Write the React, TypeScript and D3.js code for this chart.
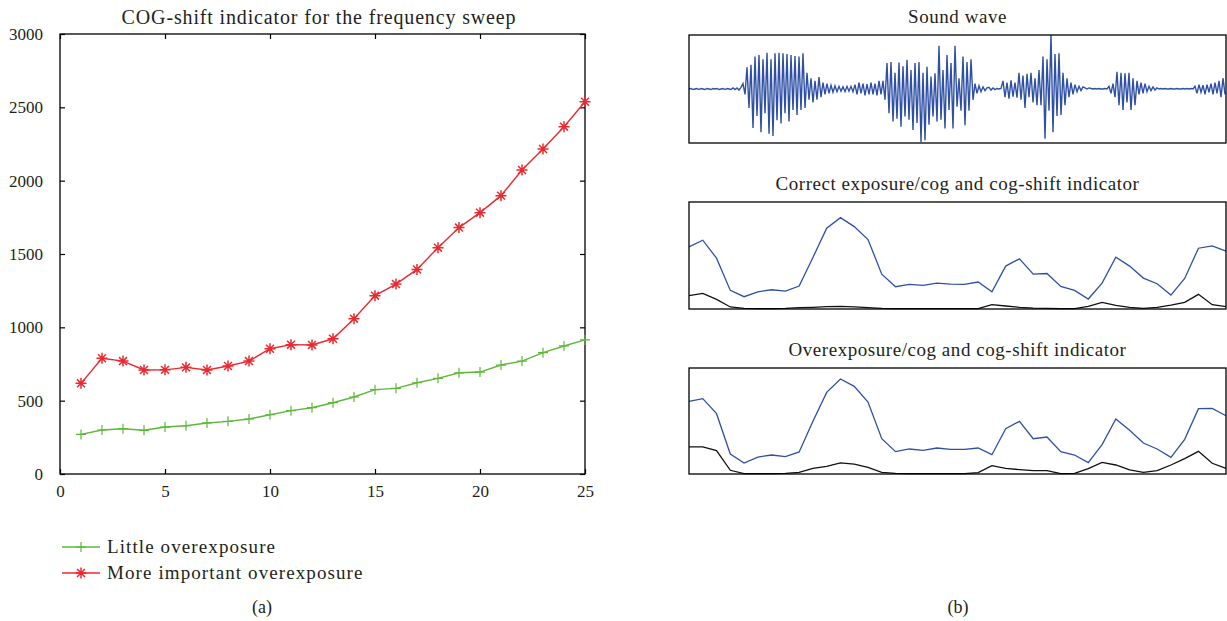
import * as d3 from 'd3'
import React, { useEffect, useRef } from 'react'

// (a) COG-shift indicator, x = 1..25
const sweepSteps = d3.range(1, 26)
const littleOver = [270, 300, 309, 298, 320, 329, 348, 359, 375, 404, 432, 452, 486, 525, 575, 584, 622, 652, 690, 695, 743, 770, 827, 873, 914]
const moreOver = [618, 789, 770, 709, 710, 727, 709, 736, 770, 854, 882, 880, 922, 1059, 1216, 1295, 1395, 1543, 1680, 1782, 1898, 2073, 2216, 2368, 2538]
const xTicks = [0, 5, 10, 15, 20, 25]
const yTicks = [0, 500, 1000, 1500, 2000, 2500, 3000]
const legendNames = ['Little overexposure', 'More important overexposure']

// (b) sound wave samples (normalised amplitude)
const soundWave = [
  0, 0.01, -0.01, 0, 0.01, -0.01, 0.01, 0, -0.01, 0.01, 0, -0.01, 0.01, 0, 0.01, -0.01, 0, 0.01, -0.01, 0.01, 0, -0.01, 0.02, -0.01, 0.02, -0.02, 0.03,
  0.1, -0.1, 0.4, -0.35, 0.45, -0.72, 0.6, -0.5, 0.63, -0.8, 0.55, -0.45, 0.67, -0.83, 0.55, -0.87, 0.66, -0.58, 0.67, -0.64, 0.66, -0.45, 0.65, -0.6, 0.63, -0.39, 0.61, -0.48, 0.6, -0.39, 0.66,
  -0.35, 0.3, -0.2, 0.2, -0.25, 0.15, -0.2, 0.22, -0.15, 0.12,
  -0.1, 0.1, -0.08, 0.07, -0.06, 0.06, -0.05, 0.05, -0.04, 0.04, -0.05, 0.05, -0.04, 0.05, -0.05,
  0.08, -0.1, 0.12, -0.08, 0.1, -0.12, 0.09, -0.1, 0.12, -0.1, 0.1, -0.12, 0.15, -0.1,
  0.15, -0.2, 0.48, -0.45, 0.5, -0.6, 0.3, -0.55, 0.49, -0.7, 0.42, -0.51, 0.54, -0.57, 0.35, -0.76, 0.48, -0.63, 0.5, -0.98, 0.3, -0.95, 0.41, -0.66,
  0.23, -0.51, 0.29, -0.6, 0.8, -0.57, 0.35, -0.73, 0.63, -0.39, 0.48, -0.73, 0.8, -0.33, 0.2, -0.4, 0.6, -0.67, 0.5, -0.4, 0.55, -0.2,
  0.1, -0.08, 0.06, -0.05, 0.04, -0.03, 0.02, 0.03, -0.02, 0.02, -0.01, 0.01, 0, 0.01,
  0.15, -0.15, 0.12, -0.18, 0.16, -0.14, 0.12, -0.16, 0.3, -0.2, 0.25, -0.35, 0.28, -0.15, 0.3, -0.25, 0.2, -0.3,
  0.35, -0.3, 0.6, -0.92, 0.55, -0.4, 1.0, -0.8, 0.65, -0.5, 0.66, -0.48, 0.3, -0.3, 0.2, -0.15, 0.12, -0.1,
  0.08, -0.05, 0.05, -0.03, 0.04, 0.02, 0, 0.02, 0.01, 0, 0.01, 0, 0.01, 0, 0, 0.01, 0,
  0.05, -0.08, 0.1, -0.15, 0.32, -0.3, 0.3, -0.39, 0.29, -0.25, 0.3, -0.39, 0.2, -0.3, 0.15, -0.1, 0.12, -0.08, 0.1, -0.05,
  0.05, -0.03, 0.04, -0.02, 0.02, 0, 0.01, 0, 0.01, 0, 0, 0.01, 0, 0, 0.01, 0, 0, 0.01, 0, 0.01, 0, 0.01, 0,
  0.05, -0.08, 0.08, -0.06, 0.07, -0.1, 0.08, -0.06, 0.1, -0.1, 0.12, -0.08, 0.15, -0.15, 0.2, -0.1,
]

// (b) cog (blue) and cog-shift indicator (black), 40 frames, % of panel height
const correctCog = [58.1, 64.3, 47.5, 17.4, 11.5, 16.1, 18.0, 16.8, 21.4, 48.1, 75.5, 85.4, 77.0, 64.9, 32.6, 20.8, 23.0, 22.0, 24.2, 23.3,
  23.0, 25.2, 16.1, 40.1, 46.9, 32.6, 33.2, 21.1, 17.4, 9.3, 24.2, 48.4, 40.1, 28.9, 23.6, 13.0, 28.6, 56.8, 59.0, 54.0]
const correctShift = [12.4, 14.6, 9.0, 1.9, 0.6, 0.3, 0.3, 0.6, 1.2, 1.6, 2.2, 2.5, 1.9, 1.2, 0.6, 0.3, 0.3, 0.3, 0.3, 0.3,
  0.3, 0.3, 4.0, 2.8, 1.6, 0.9, 0.6, 0.3, 0.3, 2.5, 6.2, 3.4, 1.6, 0.6, 1.6, 3.7, 6.2, 13.7, 4.0, 2.2]
const overCog = [68.6, 71.1, 56.9, 18.9, 10.4, 16.0, 17.9, 16.4, 20.8, 49.7, 77.0, 89.6, 82.7, 67.9, 33.3, 21.1, 23.6, 22.3, 24.5, 23.3,
  23.3, 24.5, 18.2, 42.8, 49.7, 33.3, 34.9, 21.1, 17.9, 10.7, 27.7, 51.9, 41.2, 29.2, 23.6, 15.7, 32.7, 61.6, 61.9, 55.0]
const overShift = [25.5, 25.5, 22.0, 3.5, 0.3, 0.3, 0.3, 0.6, 1.6, 5.3, 7.2, 10.4, 9.4, 6.3, 1.6, 0.6, 0.3, 0.3, 0.3, 0.3,
  0.3, 1.3, 7.9, 5.3, 4.1, 3.1, 3.1, 0.3, 0.6, 5.0, 11.0, 8.5, 3.8, 1.6, 3.1, 8.5, 14.5, 21.4, 10.1, 5.3]

const FONT = '"Liberation Serif", "DejaVu Serif", serif'
const GREEN = '#5cb83a'
const RED = '#ea2a2f'
const BLUE = '#2f50a4'
const INK = '#231f20'

function App() {
  const ref = useRef<SVGSVGElement>(null)

  useEffect(() => {
    const svg = d3.select(ref.current)
    svg.selectAll('*').remove()

    // ---- (a) left chart ----
    const x = d3.scaleLinear().domain([0, 25]).range([60, 585])
    const y = d3.scaleLinear().domain([0, 3000]).range([474, 34])

    const left = svg.append('g')
    left.append('text')
      .attr('x', 319).attr('y', 24)
      .attr('text-anchor', 'middle')
      .attr('font-size', 20).attr('letter-spacing', 0.85)
      .text('COG-shift indicator for the frequency sweep')

    const noLabel = () => ''
    const fmt = d3.format('d')
    left.append('g').attr('transform', 'translate(0,474)')
      .call(d3.axisBottom(x).tickValues(xTicks).tickSizeInner(-5).tickSizeOuter(0).tickPadding(11).tickFormat(fmt))
    left.append('g').attr('transform', 'translate(0,34)')
      .call(d3.axisTop(x).tickValues(xTicks).tickSizeInner(-5).tickSizeOuter(0).tickFormat(noLabel))
    left.append('g').attr('transform', 'translate(60,0)')
      .call(d3.axisLeft(y).tickValues(yTicks).tickSizeInner(-5).tickSizeOuter(0).tickPadding(17).tickFormat(fmt))
    left.append('g').attr('transform', 'translate(585,0)')
      .call(d3.axisRight(y).tickValues(yTicks).tickSizeInner(-5).tickSizeOuter(0).tickFormat(noLabel))
    left.selectAll('.domain').remove()
    left.selectAll('.tick line').attr('stroke', '#000').attr('stroke-width', 1.2)
    left.selectAll('.tick text').attr('font-family', FONT).attr('font-size', 17).attr('fill', INK)
    left.append('rect')
      .attr('x', 60).attr('y', 34).attr('width', 525).attr('height', 440)
      .attr('fill', 'none').attr('stroke', '#000').attr('stroke-width', 1.3)

    const line = d3.line<number>().x((d, i) => x(sweepSteps[i])).y(d => y(d))

    const plus = (g: any, cx: number, cy: number, c: string, r = 5) => {
      g.append('path').attr('d', `M${cx - r},${cy}H${cx + r}M${cx},${cy - r}V${cy + r}`)
        .attr('stroke', c).attr('stroke-width', 1.2).attr('fill', 'none')
    }
    const star = (g: any, cx: number, cy: number, c: string, r = 5.5) => {
      const k = r * 0.72
      g.append('path')
        .attr('d', `M${cx - r},${cy}H${cx + r}M${cx},${cy - r}V${cy + r}M${cx - k},${cy - k}L${cx + k},${cy + k}M${cx - k},${cy + k}L${cx + k},${cy - k}`)
        .attr('stroke', c).attr('stroke-width', 1.5).attr('fill', 'none')
    }

    left.append('path').attr('d', line(littleOver)).attr('fill', 'none').attr('stroke', GREEN).attr('stroke-width', 1.4)
    left.append('path').attr('d', line(moreOver)).attr('fill', 'none').attr('stroke', RED).attr('stroke-width', 1.4)
    littleOver.forEach((v, i) => plus(left, x(sweepSteps[i]), y(v), GREEN))
    moreOver.forEach((v, i) => star(left, x(sweepSteps[i]), y(v), RED))

    // legend
    const legend = left.append('g')
    legendNames.forEach((name, i) => {
      const ly = 547 + i * 26
      const c = i === 0 ? GREEN : RED
      legend.append('line').attr('x1', 62).attr('x2', 100).attr('y1', ly).attr('y2', ly)
        .attr('stroke', c).attr('stroke-width', 1.4)
      if (i === 0) plus(legend, 81, ly, c)
      else star(legend, 81, ly, c)
      legend.append('text').attr('x', 107).attr('y', ly + 6)
        .attr('font-size', 19).attr('letter-spacing', 1.1).text(name)
    })

    svg.append('text').attr('x', 262).attr('y', 613).attr('text-anchor', 'middle')
      .attr('font-size', 18).text('(a)')
    svg.append('text').attr('x', 958).attr('y', 613).attr('text-anchor', 'middle')
      .attr('font-size', 18).text('(b)')

    // ---- (b) right panels ----
    const x0 = 689, x1 = 1226
    const right = svg.append('g')

    const panel = (title: string, top: number, bottom: number) => {
      right.append('text').attr('x', (x0 + x1) / 2).attr('y', top - 12)
        .attr('text-anchor', 'middle').attr('font-size', 19).attr('letter-spacing', 0.55).text(title)
      right.append('rect').attr('x', x0).attr('y', top).attr('width', x1 - x0).attr('height', bottom - top)
        .attr('fill', 'none').attr('stroke', '#000').attr('stroke-width', 1.3)
    }

    // sound wave
    const wx = d3.scaleLinear().domain([0, soundWave.length - 1]).range([x0, x1 - 1])
    const wy = d3.scaleLinear().domain([-1, 1]).range([143, 35])
    right.append('path')
      .attr('d', d3.line<number>().x((d, i) => wx(i)).y(d => wy(d))(soundWave))
      .attr('fill', 'none').attr('stroke', BLUE).attr('stroke-width', 1.4)
    panel('Sound wave', 35, 143)

    const cx = d3.scaleLinear().domain([0, correctCog.length - 1]).range([x0, x1])
    const drawPair = (cog: number[], shift: number[], top: number, bottom: number) => {
      const py = d3.scaleLinear().domain([0, 100]).range([bottom, top])
      const ln = d3.line<number>().x((d, i) => cx(i)).y(d => py(d))
      right.append('path').attr('d', ln(shift)).attr('fill', 'none').attr('stroke', '#111').attr('stroke-width', 1.3)
      right.append('path').attr('d', ln(cog)).attr('fill', 'none').attr('stroke', BLUE).attr('stroke-width', 1.3)
    }
    drawPair(correctCog, correctShift, 202, 309)
    panel('Correct exposure/cog and cog-shift indicator', 202, 309)
    drawPair(overCog, overShift, 368, 474)
    panel('Overexposure/cog and cog-shift indicator', 368, 474)
  }, [])

  return (
    <svg ref={ref} width={1227} height={621}
      style={{ position: 'absolute', left: 0, top: 0, background: '#fff' }}
      fontFamily={FONT} fill={INK} />
  )
}

export default App
